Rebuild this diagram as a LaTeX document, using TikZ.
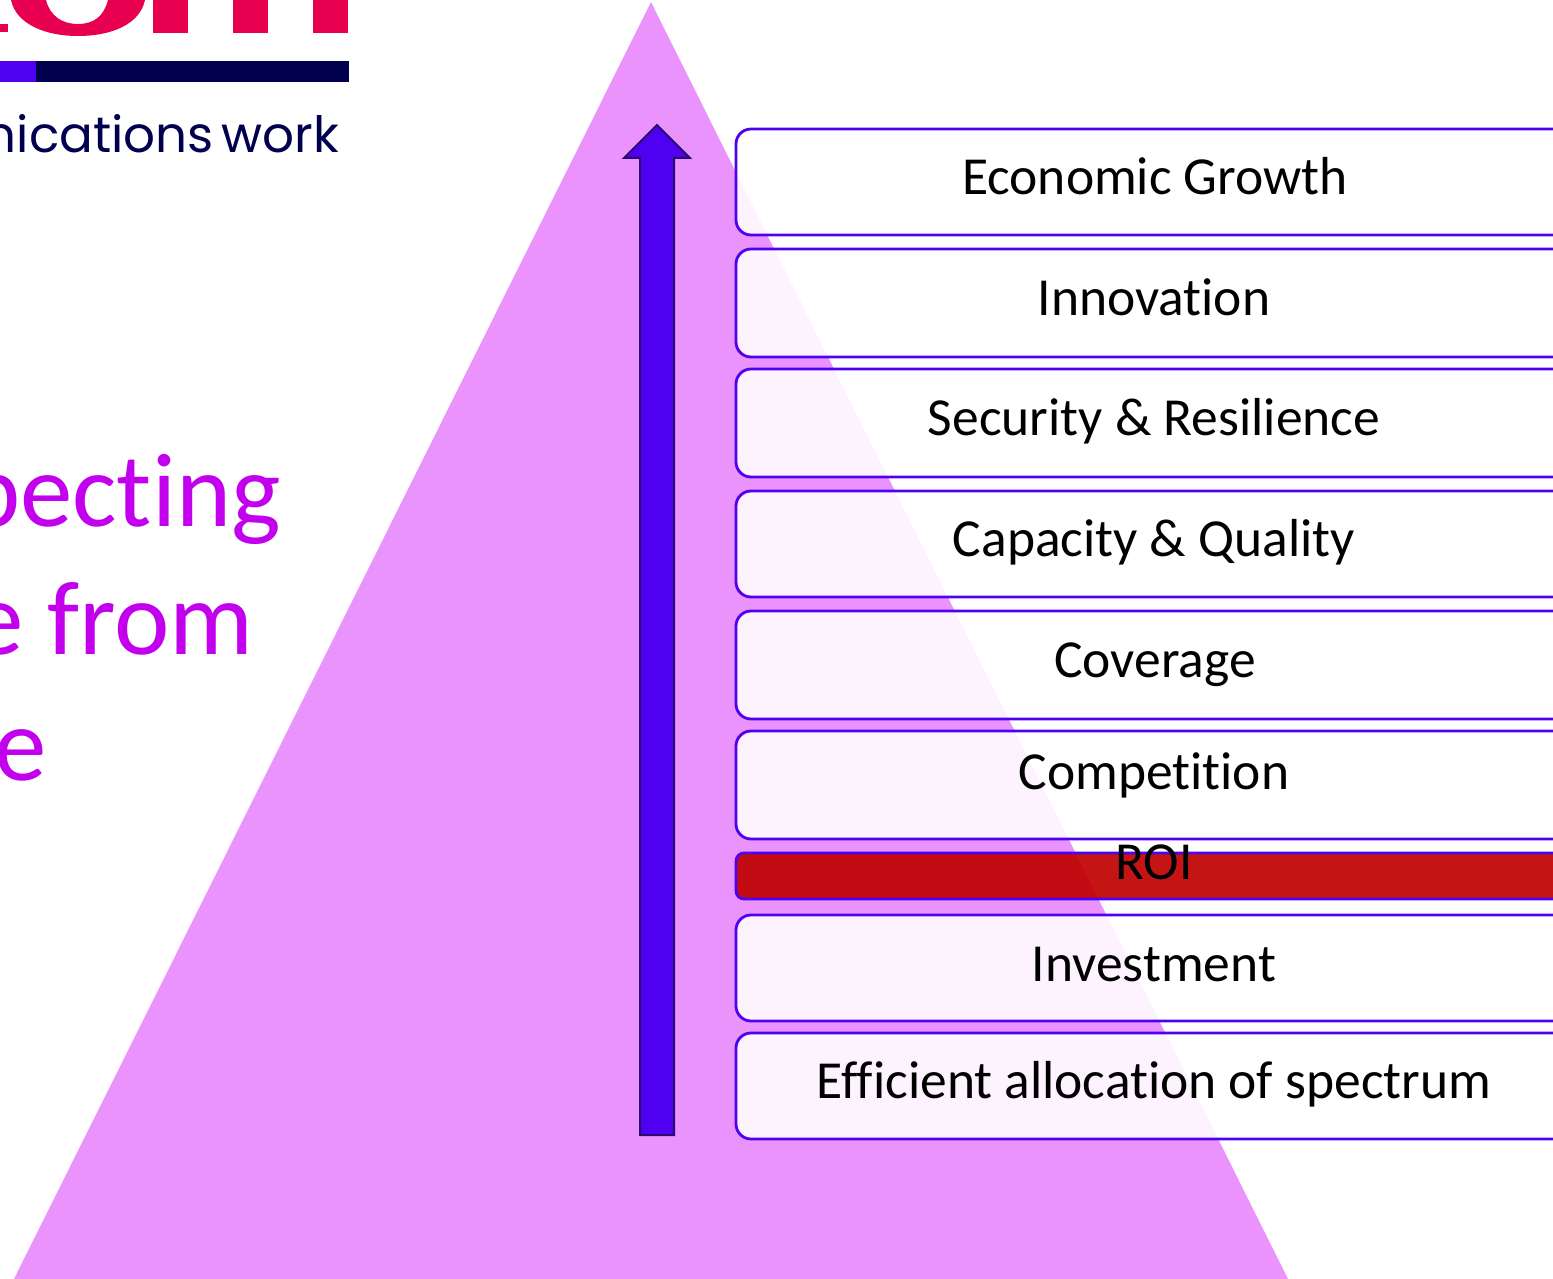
\documentclass[tikz,border=0pt]{standalone}
\usepackage{fontspec}
\setmainfont[Ligatures={NoCommon}]{Carlito}
\newfontfamily\logofont{Poppins}
\definecolor{pinkfill}{HTML}{EA93FD}
\definecolor{boxline}{HTML}{5000F0}
\definecolor{navy}{HTML}{00004F}
\definecolor{logored}{HTML}{E6004F}
\definecolor{headline}{HTML}{C300EE}
\definecolor{roired}{HTML}{C00000}
\definecolor{arrowline}{HTML}{2A0A6E}
\tikzset{
  tierbox/.style={draw=boxline,line width=2.8pt,rounded corners=15pt,fill=white,fill opacity=0.89},
  roibox/.style={draw=boxline,line width=2.8pt,rounded corners=8pt,fill=roired,fill opacity=0.92},
  tierlabel/.style={anchor=base,inner sep=0pt,font=\fontsize{53.5}{53.5}\selectfont,text=black},
  headlinetext/.style={anchor=base east,inner sep=0pt,font=\fontsize{105}{105}\selectfont,text=headline},
}
\begin{document}
\begin{tikzpicture}[x=1pt,y=-1pt]
\useasboundingbox (0,0) rectangle (1553,1279);
\clip (0,0) rectangle (1553,1279);
% logo
\fill[logored] (0,24) rectangle (8,32);
\fill[logored] (11,0) .. controls (16,24) and (45,36) .. (78,36) .. controls (112,36) and (140,24) .. (145,0) -- (108,0) .. controls (104,16) and (94,24) .. (78,24) .. controls (62,24) and (50,16) .. (46,0) -- cycle;
\fill[logored] (153,0) rectangle (188,33);
\fill[logored] (233,0) rectangle (268,33);
\fill[logored] (313,0) rectangle (348,33);
\fill[boxline] (0,61) rectangle (36,82);
\fill[navy] (36,61) rectangle (349,82);
\node[anchor=base east,inner sep=0pt,text=navy,font=\logofont\fontsize{50}{50}\selectfont] (tagline) at (339,153) {nications\hspace{-6pt} work};
% headline
\node[headlinetext] (head1) at (281,526) {pecting};
\node[headlinetext] (head2) at (254,654) {e from};
\node[headlinetext] (head3) at (47,780) {e};
% pyramid
\fill[pinkfill] (651,2) -- (1288,1279) -- (14,1279) -- cycle;
% arrow
\draw[fill=boxline,draw=arrowline,line width=2pt,line join=miter] (640,1135) -- (640,158) -- (624,158) -- (657,125) -- (690,158) -- (674,158) -- (674,1135) -- cycle;
% boxes
\draw[tierbox] (736,129) rectangle (1620,235);
\draw[tierbox] (736,249) rectangle (1620,357);
\draw[tierbox] (736,369) rectangle (1620,477);
\draw[tierbox] (736,491) rectangle (1620,597);
\draw[tierbox] (736,611) rectangle (1620,719);
\draw[tierbox] (736,731) rectangle (1620,839);
\draw[roibox] (736,853) rectangle (1620,899);
\draw[tierbox] (736,915) rectangle (1620,1021);
\draw[tierbox] (736,1033) rectangle (1620,1139);
% labels
\node[tierlabel] (l1) at (1155,194) {Economic Growth};
\node[tierlabel] (l2) at (1154,315) {Innovation};
\node[tierlabel] (l3) at (1154,435) {Security \& Resilience};
\node[tierlabel] (l4) at (1154,556) {Capacity \& Quality};
\node[tierlabel] (l5) at (1155,677) {Coverage};
\node[tierlabel] (l6) at (1154,789) {Competition};
\node[tierlabel] (l7) at (1154,879) {ROI};
\node[tierlabel] (l8) at (1154,981) {Investment};
\node[tierlabel] (l9) at (1154,1098) {Efficient allocation of spectrum};
\end{tikzpicture}
\end{document}
